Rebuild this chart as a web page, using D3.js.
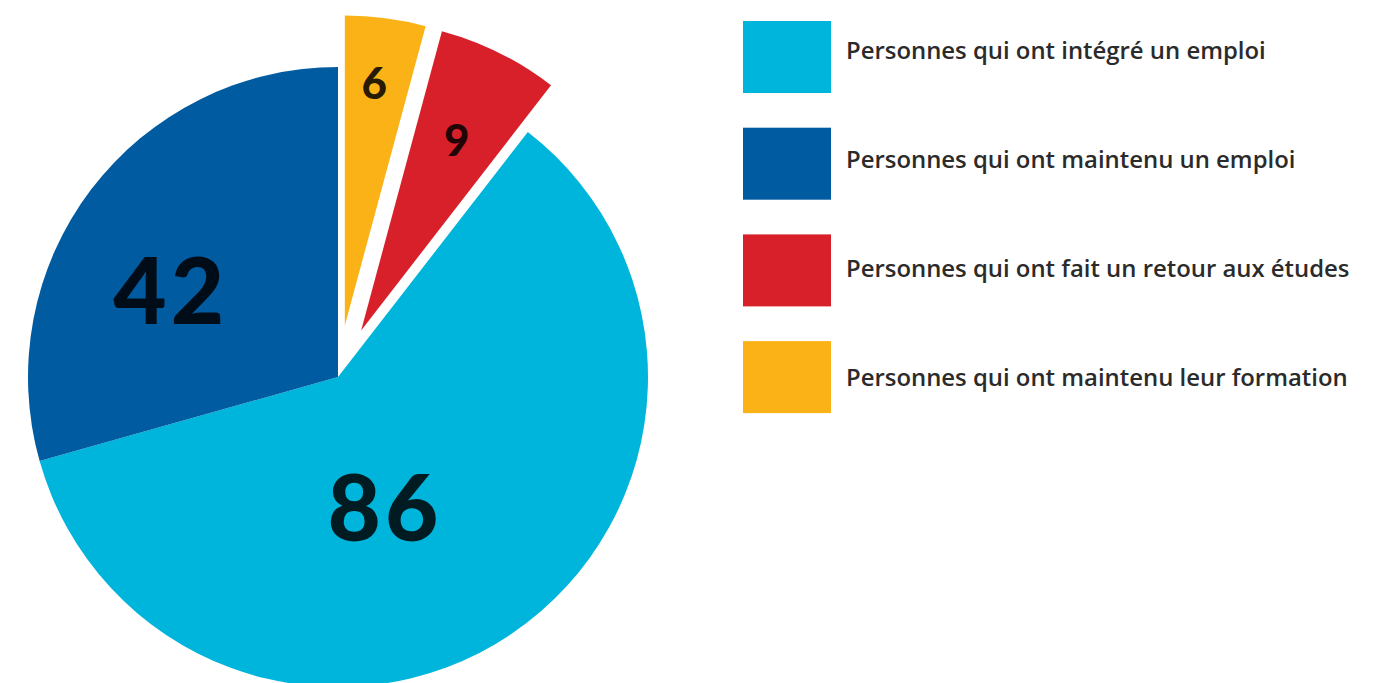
<!DOCTYPE html>
<html lang="fr">
<head>
<meta charset="UTF-8">
<title>Parcours des personnes</title>
<script src="https://d3js.org/d3.v7.min.js"></script>
<style>
  html, body { margin: 0; padding: 0; background: #fff; }
</style>
</head>
<body>
<div id="container"></div>
<script>
  // Données (ordre de la légende)
  const categories = [
    "Personnes qui ont intégré un emploi",
    "Personnes qui ont maintenu un emploi",
    "Personnes qui ont fait un retour aux études",
    "Personnes qui ont maintenu leur formation"
  ];
  const values = [86, 42, 9, 6];
  const colors = ["#00b5db", "#005ba1", "#d8202a", "#fbb217"];

  // Mise en page
  const width = 1385, height = 683;
  const cx = 338, cy = 377, radius = 310;
  const pieOrder = [3, 2, 0, 1];           // sens horaire depuis le haut
  const exploded = [0, 0, 52, 52];        // décalage des parts détachées
  const labelPolar = [[161, 138], [297, 190], [26.5, 213], [6.8, 244]]; // angle°, distance
  const labelSize = [92, 92, 44, 44];

  const svg = d3.select("#container")
    .append("svg")
    .attr("width", width)
    .attr("height", height);

  const data = values.map((v, i) => ({ i, value: v }));

  const pie = d3.pie()
    .value(d => d.value)
    .sort((a, b) => pieOrder.indexOf(a.i) - pieOrder.indexOf(b.i));

  const arc = d3.arc().innerRadius(0).outerRadius(radius);

  const arcs = pie(data);

  const g = svg.append("g").attr("transform", `translate(${cx},${cy})`);

  const slice = g.selectAll("g.slice")
    .data(arcs)
    .join("g")
    .attr("class", "slice")
    .attr("transform", d => {
      const off = exploded[d.data.i];
      const [dx, dy] = d3.pointRadial((d.startAngle + d.endAngle) / 2, off);
      return `translate(${dx},${dy})`;
    });

  slice.append("path")
    .attr("d", arc)
    .attr("fill", d => colors[d.data.i]);

  slice.append("text")
    .attr("transform", d => {
      const [a, r] = labelPolar[d.data.i];
      const [x, y] = d3.pointRadial(a * Math.PI / 180, r);
      return `translate(${x},${y})`;
    })
    .attr("text-anchor", "middle")
    .attr("dy", "0.36em")
    .attr("dx", d => labelSize[d.data.i] > 50 ? 2 : 1)
    .attr("letter-spacing", d => labelSize[d.data.i] > 50 ? 4 : 1)
    .attr("font-family", "Lato, 'DejaVu Sans', sans-serif")
    .attr("font-weight", 900)
    .attr("font-size", d => labelSize[d.data.i])
    .attr("fill", "#000")
    .attr("fill-opacity", 0.85)
    .text(d => d.data.value);

  // Légende
  const legend = svg.append("g").attr("transform", "translate(743,21)");
  const row = legend.selectAll("g")
    .data(categories)
    .join("g");

  row.append("rect")
    .attr("y", (d, i) => i * 106.7)
    .attr("width", 88)
    .attr("height", 72)
    .attr("fill", (d, i) => colors[i]);

  row.append("text")
    .attr("x", 103)
    .attr("y", (d, i) => 37.5 + i * 109)
    .attr("font-family", "'Open Sans', sans-serif")
    .attr("font-weight", 600)
    .attr("font-size", 23.9)
    .attr("fill", "#2b2b2b")
    .text(d => d);
</script>
</body>
</html>
